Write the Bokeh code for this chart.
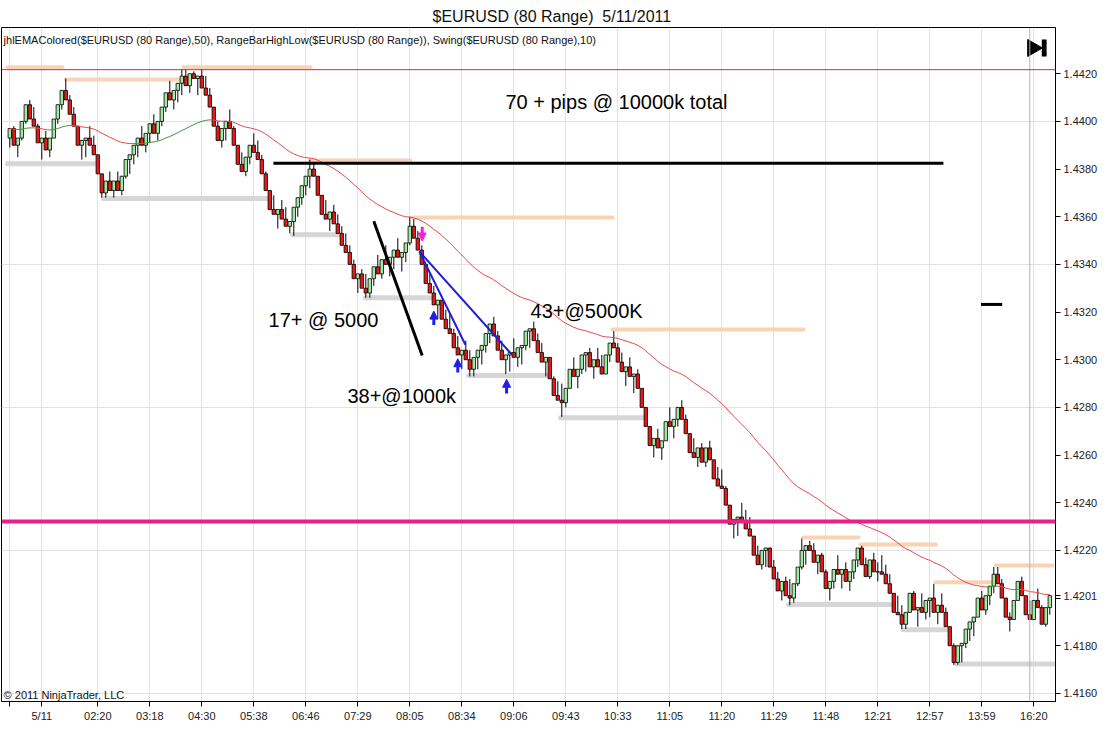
import numpy as np
from bokeh.plotting import figure
from bokeh.models import (Range1d, FixedTicker, PrintfTickFormatter, Arrow,
                          NormalHead, ColumnDataSource, Span)
from bokeh.embed import file_html
from bokeh.resources import INLINE
from bokeh.core.properties import value

# ---------------- data (prices stored as pips above 1.4000) ----------------
opens = [393,397,390,393,400,407,401,398,391,393,
         388,393,401,407,413,409,403,398,390,392,
         393,390,386,378,370,375,371,375,371,377,
         384,386,390,393,390,395,399,395,400,406,
         412,409,413,416,419,415,420,418,419,414,
         411,406,398,392,397,400,397,390,382,379,
         385,390,387,384,378,371,363,361,363,359,
         356,358,364,368,373,377,380,377,369,361,
         359,362,357,353,348,345,340,334,336,330,
         328,334,339,336,342,340,343,346,343,345,
         349,356,351,346,340,332,328,323,325,317,
         313,311,305,302,304,300,296,301,304,306,
         311,315,310,304,300,302,303,301,305,306,
         312,313,308,303,299,301,292,285,283,282,
         288,296,293,296,302,303,297,300,297,294,
         302,307,305,299,295,297,293,294,288,280,
         272,264,267,263,266,274,272,275,280,275,
         269,261,259,263,257,263,258,250,247,246,
         239,231,233,234,232,229,226,218,214,220,
         221,213,208,203,207,201,200,206,213,220,
         222,220,215,218,211,204,207,212,210,212,
         207,211,216,221,214,209,216,211,211,210,
         206,202,194,193,189,194,202,195,196,194,
         199,200,194,197,194,188,180,173,180,181,
         187,190,192,200,195,201,205,210,206,200,
         192,191,199,207,201,193,191,199,196,189,
         196]
highs = [397,398,393,400,407,409,406,399,393,396,
         393,401,407,413,418,411,406,398,392,393,
         398,394,386,378,375,379,375,379,377,384,
         386,390,393,398,395,399,403,400,406,412,
         417,413,416,422,422,420,421,419,422,419,
         414,406,400,397,400,405,398,390,387,385,
         390,395,392,386,379,371,369,363,367,364,
         358,364,368,373,377,384,383,377,369,367,
         362,365,361,356,353,348,342,336,338,336,
         334,339,344,342,348,343,346,351,345,349,
         360,359,354,348,340,336,331,325,325,321,
         319,313,310,304,308,304,301,304,306,311,
         315,318,312,308,302,303,309,305,306,312,
         313,316,311,307,301,301,293,291,290,288,
         296,301,296,302,303,305,300,305,302,302,
         307,312,307,303,297,301,294,296,288,280,
         272,267,271,266,274,280,275,280,283,277,
         269,267,263,265,263,266,258,255,254,247,
         239,233,234,240,237,234,226,222,220,221,
         221,216,211,207,209,208,206,213,225,222,
         224,223,218,219,212,207,212,218,212,215,
         211,216,221,222,217,216,219,215,218,214,
         210,202,201,197,194,202,203,196,202,199,
         200,206,197,202,196,188,181,180,181,187,
         190,192,200,203,201,205,213,213,208,200,
         194,199,207,209,201,199,199,204,197,196,
         201]
lows = [389,390,385,392,399,401,398,391,384,388,
        385,393,399,405,409,403,398,390,384,385,
        390,386,378,368,368,371,368,371,369,376,
        378,382,385,390,387,391,395,392,398,404,
        409,405,408,411,415,412,418,411,414,411,
        406,398,392,389,392,397,390,382,379,377,
        382,387,384,378,371,363,361,355,359,356,
        353,352,360,365,369,372,377,369,361,359,
        354,357,353,348,345,340,334,328,330,326,
        326,331,336,334,340,335,338,343,337,341,
        348,351,346,340,332,328,323,317,317,313,
        311,305,302,296,300,293,293,296,298,303,
        307,310,304,300,294,295,301,297,298,304,
        305,308,303,299,293,292,285,283,276,280,
        288,293,288,294,295,297,292,297,294,294,
        299,305,299,295,289,293,286,288,280,272,
        264,259,263,258,266,272,267,272,275,269,
        261,259,255,257,255,258,250,247,246,239,
        231,225,226,232,229,226,218,214,212,213,
        213,208,203,199,201,197,198,205,212,214,
        220,215,210,211,204,199,204,210,204,207,
        203,208,213,214,209,208,211,207,210,206,
        202,194,193,187,187,194,195,188,194,191,
        192,194,189,194,188,180,172,172,173,179,
        182,184,192,195,193,197,202,206,200,192,
        186,191,199,201,193,191,191,196,189,188,
        193]
closes = [397,390,393,400,407,401,398,391,393,388,
          393,401,407,413,409,403,398,390,392,393,
          390,386,378,370,375,371,375,371,377,384,
          386,390,393,390,395,399,395,400,406,412,
          409,413,416,419,415,420,418,419,414,411,
          406,398,392,397,400,397,390,382,379,385,
          390,387,384,378,371,363,361,363,359,356,
          358,364,368,373,377,380,377,369,361,359,
          362,357,353,348,345,340,334,336,330,328,
          334,339,336,342,340,343,346,343,345,349,
          356,351,346,340,332,328,323,325,317,313,
          311,305,302,304,300,296,301,304,306,311,
          315,310,304,300,302,303,301,305,306,312,
          313,308,303,299,301,292,285,283,282,288,
          296,293,296,302,303,297,300,297,294,302,
          307,305,299,295,297,293,294,288,280,272,
          264,267,263,266,274,272,275,280,275,269,
          261,259,263,257,263,258,250,247,246,239,
          231,233,234,232,229,226,218,214,220,221,
          213,208,203,207,201,200,206,213,220,222,
          220,215,218,211,204,207,212,210,212,207,
          211,216,221,214,209,216,211,211,210,206,
          202,194,193,189,194,202,195,196,194,199,
          200,194,197,194,188,180,173,180,181,187,
          190,192,200,195,201,205,210,206,200,192,
          191,199,207,201,193,191,199,196,189,196,
          201]

tick_bars = [0, 8, 22, 35, 48, 61, 74, 87, 100, 113, 126, 139, 152, 165, 178,
             191, 204, 217, 230, 243, 256]
tick_labels = ["", "5/11", "02:20", "03:18", "04:30", "05:38", "06:46", "07:29",
               "08:05", "08:34", "09:06", "09:43", "10:33", "11:05", "11:20",
               "11:29", "11:48", "12:21", "12:57", "13:59", "16:20"]
last_price = 1.4201
price_ticks = [1.4160, 1.4180, 1.4200, last_price, 1.4220, 1.4240, 1.4260, 1.4280,
               1.4300, 1.4320, 1.4340, 1.4360, 1.4380, 1.4400, 1.4420]
grid_prices = [1.4160, 1.4220, 1.4280, 1.4340, 1.4400]
session_break_bar = 255

# Swing(10) indicator: swing highs / lows (pips above 1.4000)
swing_hi_level = [422.7, 417.6, 422.7, 383.6, 359.7, 312.7, 225.4, 222.5, 206.6, 213.7]
swing_hi_from = [-0.6, 14.0, 43.5, 75.0, 100.7, 150.7, 198.4, 212.7, 231.5, 246.5]
swing_hi_to = [13.2, 42.2, 75.2, 100.2, 150.7, 198.4, 212.2, 231.5, 246.5, 260.6]
swing_lo_level = [382.2, 367.6, 352.4, 326.0, 293.4, 275.7, 197.3, 186.7, 172.3]
swing_lo_from = [-0.6, 23.4, 70.7, 88.9, 114.7, 137.7, 194.7, 223.4, 236.6]
swing_lo_to = [21.9, 65.2, 82.7, 105.2, 134.5, 158.5, 220.3, 234.5, 260.8]

# drawing objects on the chart (pips above 1.4000)
hline_levels = [232.1, 421.7]
hline_widths = [4, 1]
hline_colors = ["#E8218A", "#C8208E"]
black_x0 = [65.9, 91.0, 242.8]
black_x1 = [233.4, 103.1, 248.1]
black_y0 = [382.4, 358.1, 323.2]
black_y1 = [382.4, 301.8, 323.2]
trade_entry_x = [102.4, 102.4]
trade_entry_y = [345.4, 345.4]
trade_exit_x = [113.9, 125.35]
trade_exit_y = [306.3, 302.5]
exit_arrow_x = [106.0, 112.0, 124.2]
exit_arrow_tail = [314.6, 294.6, 285.8]
exit_arrow_tip = [320.4, 300.4, 291.8]
entry_arrow_x = [103.1]
entry_arrow_tail = [355.8]
entry_arrow_tip = [349.8]
note_text = ["70 + pips @ 10000k total", "17+ @ 5000", "43+@5000K", "38+@1000k"]
note_x = [123.9, 64.7, 130.2, 84.4]
note_y = [408.0, 316.5, 320.3, 284.6]

EMA_PERIOD = 50


def px(v):
    return 1.4 + np.asarray(v, dtype=float) / 10000.0


o = px(opens); h = px(highs); l = px(lows); c = px(closes)
n = len(closes)
xs = np.arange(n)

# EMA(50) of closes, colored by slope
alpha = 2.0 / (EMA_PERIOD + 1)
ema = np.empty(n)
ema[0] = c[0]
for i in range(1, n):
    ema[i] = ema[i - 1] + alpha * (c[i] - ema[i - 1])
ema_col = ["#3C963C" if ema[i + 1] >= ema[i] else "#E8474C" for i in range(n - 1)]

FONT = "Liberation Sans"

p = figure(width=1104, height=739,
           x_range=Range1d(-2.075, 261.425), y_range=Range1d(1.41566, 1.44394),
           output_backend="svg", toolbar_location=None, y_axis_location="right",
           min_border_left=1, min_border_right=49, min_border_top=27, min_border_bottom=38,
           title="$EURUSD (80 Range)\u00a0\u00a05/11/2011")
p.title.align = "left"
p.title.offset = 431
p.title.standoff = 5
p.title.text_font = FONT
p.title.text_font_size = "16px"
p.title.text_font_style = "normal"
p.title.text_color = "#111111"
p.background_fill_color = "white"
p.border_fill_color = "white"
p.outline_line_color = "black"
p.outline_line_width = 1

# axes
p.xaxis.ticker = FixedTicker(ticks=tick_bars)
p.xaxis.major_label_overrides = {t: s for t, s in zip(tick_bars, tick_labels)}
p.yaxis.ticker = FixedTicker(ticks=price_ticks)
p.yaxis.formatter = PrintfTickFormatter(format="%.4f")
p.yaxis.major_label_overrides = {1.42: ""}
for ax in (p.xaxis, p.yaxis):
    ax.axis_line_color = "black"
    ax.major_tick_line_color = "black"
    ax.major_tick_out = 5
    ax.major_tick_in = 0
    ax.minor_tick_line_color = None
    ax.major_label_text_font = FONT
    ax.major_label_text_font_size = "11px"
    ax.major_label_text_color = "#222222"
    ax.major_label_standoff = 3

p.xgrid.ticker = FixedTicker(ticks=tick_bars)
p.ygrid.ticker = FixedTicker(ticks=grid_prices)
p.xgrid.grid_line_color = "#E2E2E2"
p.ygrid.grid_line_color = "#E2E2E2"

p.add_layout(Span(location=session_break_bar, dimension="height",
                  line_color="#B4B4B4", line_width=1))

# swing lines
p.segment(x0=swing_hi_from, x1=swing_hi_to, y0=px(swing_hi_level), y1=px(swing_hi_level),
          line_color="#FAD3B4", line_width=4, line_cap="round")
p.segment(x0=swing_lo_from, x1=swing_lo_to, y0=px(swing_lo_level), y1=px(swing_lo_level),
          line_color="#D6D6D6", line_width=5, line_cap="round")

# candles
up = c >= o
src = ColumnDataSource(dict(
    x=xs, h=h, l=l,
    top=np.maximum(o, c), bottom=np.minimum(o, c),
    fill=np.where(up, "#A2E8A2", "#DE1A1A"),
))
p.segment(x0="x", x1="x", y0="h", y1="l", source=src, line_color="black", line_width=1)
p.vbar(x="x", width=0.86, top="top", bottom="bottom", source=src,
       fill_color="fill", line_color="black", line_width=0.8)

# EMA
p.segment(x0=xs[:-1], x1=xs[1:], y0=ema[:-1], y1=ema[1:], line_color=ema_col, line_width=1)

# horizontal drawing lines
for lev, w, col in zip(hline_levels, hline_widths, hline_colors):
    p.add_layout(Span(location=float(px(lev)), dimension="width", line_color=col, line_width=w))

# black hand-drawn lines
p.segment(x0=black_x0, x1=black_x1, y0=px(black_y0), y1=px(black_y1),
          line_color="black", line_width=3)

# trade connector lines
p.segment(x0=trade_entry_x, x1=trade_exit_x, y0=px(trade_entry_y), y1=px(trade_exit_y),
          line_color="#1E1ED2", line_width=2)

# execution arrows
exit_src = ColumnDataSource(dict(x=exit_arrow_x, y0=px(exit_arrow_tail), y1=px(exit_arrow_tip)))
p.add_layout(Arrow(end=NormalHead(size=8, fill_color="#1E1EE6", line_color="#1E1EE6"),
                   x_start="x", y_start="y0", x_end="x", y_end="y1", source=exit_src,
                   line_color="#1E1EE6", line_width=3))
entry_src = ColumnDataSource(dict(x=entry_arrow_x, y0=px(entry_arrow_tail), y1=px(entry_arrow_tip)))
p.add_layout(Arrow(end=NormalHead(size=8, fill_color="#F022D8", line_color="#F022D8"),
                   x_start="x", y_start="y0", x_end="x", y_end="y1", source=entry_src,
                   line_color="#F022D8", line_width=3))

# notes
p.text(x=note_x, y=px(note_y), text=note_text, text_font=value(FONT),
       text_font_size="20px", text_baseline="middle", text_align="left", text_color="black")

# indicator caption and copyright
p.text(x=[-1.55], y=[px(434.0)], text=["jhlEMAColored($EURUSD (80 Range),50), RangeBarHighLow($EURUSD (80 Range)), Swing($EURUSD (80 Range),10)"],
       text_font=value(FONT), text_font_size="11px", text_baseline="middle",
       text_align="left", text_color="#111111")
p.text(x=[-1.55], y=[px(159.5)], text=["\u00a9 2011 NinjaTrader, LLC"],
       text_font=value(FONT), text_font_size="11px", text_baseline="middle",
       text_align="left", text_color="#111111")

# scroll-to-end button
p.scatter(x=[255.7], y=[px(430.8)], marker="triangle", size=17, angle=-np.pi / 2,
          fill_color="black", line_color="black")
p.rect(x=[258.6], y=[px(430.8)], width=1.2, height=0.00072, fill_color="black", line_color=None)

open("out.html", "w").write(file_html(p, INLINE))
